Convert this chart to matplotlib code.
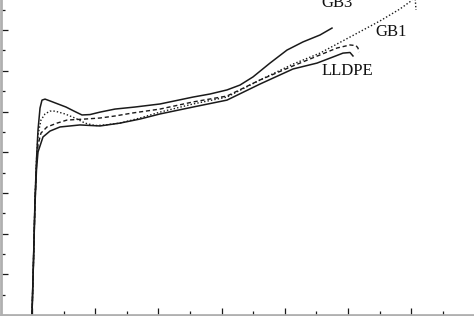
import matplotlib.pyplot as plt
from matplotlib.ticker import MultipleLocator

# strain (%) and stress (MPa)
gb3_x = [0, 2.4, 4.7, 7.1, 9.5, 12.7, 15.8, 20.6, 28.5, 41.1, 53.8, 66.5, 79.1, 91.8,
         107.6, 131.3, 162.8, 202.5, 254.8, 281.6, 308.5, 329.1, 349.7, 376.6, 403.5,
         428.8, 455.7, 474.7]
gb3_y = [0, 2.70, 5.65, 7.62, 9.09, 10.17, 10.56, 10.61, 10.52, 10.37, 10.22, 10.02, 9.83,
         9.85, 9.97, 10.12, 10.22, 10.37, 10.71, 10.86, 11.06, 11.30, 11.70, 12.38, 13.02,
         13.42, 13.76, 14.10]

gb1_x = [0, 2.4, 4.7, 7.1, 9.5, 14.2, 20.6, 28.5, 36.4, 52.2, 68.0, 83.9, 99.7, 115.5,
         139.2, 170.9, 202.5, 254.8, 308.5, 360.8, 413.0, 455.7, 503.2, 550.6, 582.3,
         599.7, 606.0, 607.6]
gb1_y = [0, 2.70, 5.65, 7.62, 8.85, 9.58, 9.88, 10.02, 10.02, 9.88, 9.68, 9.43, 9.31, 9.34,
         9.43, 9.68, 9.97, 10.37, 10.71, 11.55, 12.33, 12.87, 13.66, 14.45, 15.04,
         15.43, 15.72, 14.99]

gb2_x = [0, 2.4, 4.7, 7.1, 9.5, 14.2, 23.7, 39.6, 55.4, 83.9, 107.6, 131.3, 159.8, 202.5,
         254.8, 308.5, 360.8, 413.0, 455.7, 482.6, 503.2, 512.7, 515.8, 517.4]
gb2_y = [0, 2.70, 5.41, 7.37, 8.35, 8.94, 9.24, 9.43, 9.58, 9.63, 9.68, 9.78, 9.93, 10.12,
         10.47, 10.76, 11.55, 12.24, 12.78, 13.12, 13.27, 13.24, 13.12, 12.92]

lldpe_x = [0, 2.4, 4.7, 7.1, 9.5, 17.4, 28.5, 44.3, 75.9, 107.6, 139.2, 170.9, 202.5,
           254.8, 308.5, 360.8, 413.0, 451.0, 476.3, 492.1, 503.2, 507.9]
lldpe_y = [0, 2.70, 5.41, 7.13, 8.01, 8.75, 9.04, 9.24, 9.34, 9.29, 9.43, 9.63, 9.88,
           10.22, 10.56, 11.35, 12.09, 12.38, 12.68, 12.87, 12.90, 12.73]

labels = ['GB3', 'GB1', 'LLDPE']
label_x = [482.6, 568.0, 499.2]
label_y = [15.13, 13.71, 11.79]

fig = plt.figure(figsize=(4.74, 3.16), dpi=100)
ax = fig.add_axes([1/474, 1/316, 1 - 1/474, 1 - 1/316])

ink = '#1a1a1a'
ax.plot(gb3_x, gb3_y, color=ink, lw=1.1, ls='-')
ax.plot(gb1_x, gb1_y, color=ink, lw=1.0, ls=(0, (1, 1.5)))
ax.plot(gb2_x, gb2_y, color=ink, lw=1.0, ls=(0, (3, 2)))
ax.plot(lldpe_x, lldpe_y, color=ink, lw=1.1, ls='-')

for t, x, y in zip(labels, label_x, label_y):
    ax.text(x, y, t, family='Liberation Serif', fontsize=12, color='#111111',
            ha='center', va='baseline')

ax.set_xlim(-49.05, 699.4)
ax.set_ylim(0, 15.48)

ax.xaxis.set_major_locator(MultipleLocator(100))
ax.xaxis.set_minor_locator(MultipleLocator(50))
ax.yaxis.set_major_locator(MultipleLocator(2))
ax.yaxis.set_minor_locator(MultipleLocator(1))
ax.tick_params(which='both', direction='in', color=ink, width=0.9,
               labelleft=False, labelbottom=False)
ax.tick_params(which='major', length=5)
ax.tick_params(which='minor', length=3)

for s in ['top', 'right']:
    ax.spines[s].set_visible(False)
for s in ['left', 'bottom']:
    ax.spines[s].set_color('#b0b0b0')
    ax.spines[s].set_linewidth(2)

plt.savefig('out.png', dpi=100)
plt.close()
